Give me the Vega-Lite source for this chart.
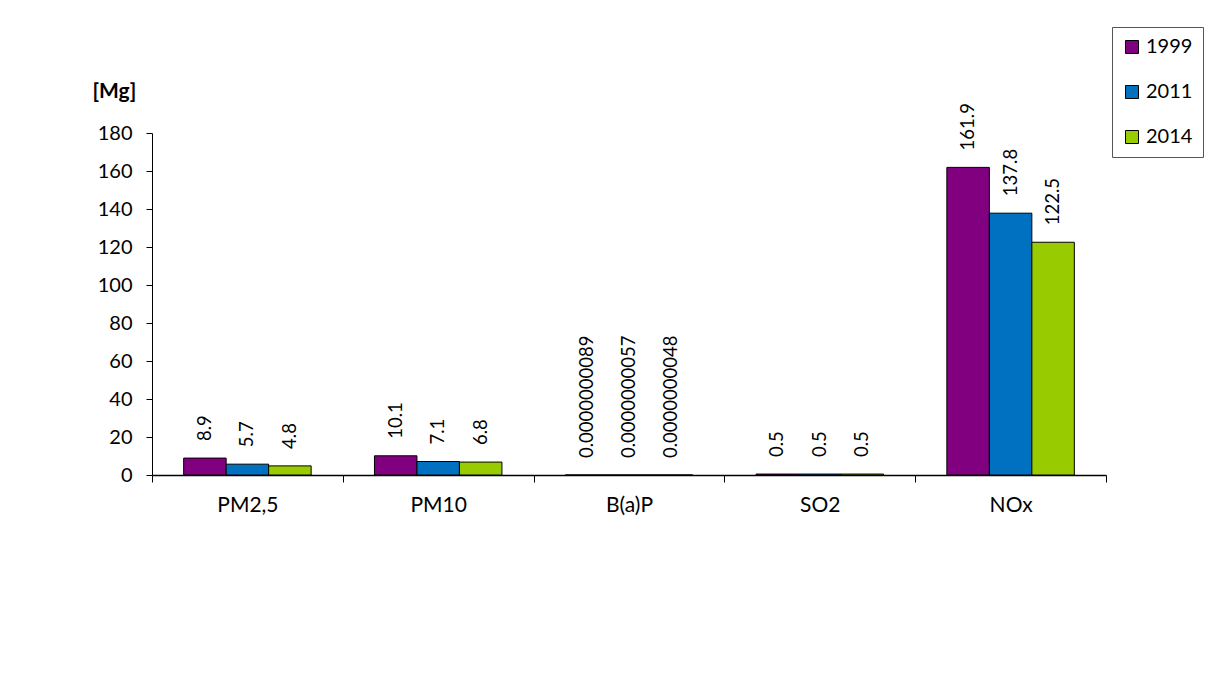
{
  "$schema": "https://vega.github.io/schema/vega-lite/v6.json",
  "autosize": "none",
  "width": 954,
  "height": 342,
  "padding": {"left": 152, "top": 133, "right": 102, "bottom": 208},
  "background": "white",
  "config": {
    "view": {"stroke": null},
    "font": "Lato",
    "axis": {"labelFont": "Lato", "titleFont": "Lato", "labelColor": "black", "titleColor": "black", "domainColor": "black", "tickColor": "black", "grid": false},
    "legend": {"labelFont": "Lato"}
  },
  "data": {
    "values": [
      {"pollutant": "PM2,5", "year": "1999", "value": 8.9, "label": "8.9"},
      {"pollutant": "PM2,5", "year": "2011", "value": 5.7, "label": "5.7"},
      {"pollutant": "PM2,5", "year": "2014", "value": 4.8, "label": "4.8"},
      {"pollutant": "PM10", "year": "1999", "value": 10.1, "label": "10.1"},
      {"pollutant": "PM10", "year": "2011", "value": 7.1, "label": "7.1"},
      {"pollutant": "PM10", "year": "2014", "value": 6.8, "label": "6.8"},
      {"pollutant": "B(a)P", "year": "1999", "value": 0.0000000089, "label": "0.0000000089"},
      {"pollutant": "B(a)P", "year": "2011", "value": 0.0000000057, "label": "0.0000000057"},
      {"pollutant": "B(a)P", "year": "2014", "value": 0.0000000048, "label": "0.0000000048"},
      {"pollutant": "SO2", "year": "1999", "value": 0.5, "label": "0.5"},
      {"pollutant": "SO2", "year": "2011", "value": 0.5, "label": "0.5"},
      {"pollutant": "SO2", "year": "2014", "value": 0.5, "label": "0.5"},
      {"pollutant": "NOx", "year": "1999", "value": 161.9, "label": "161.9"},
      {"pollutant": "NOx", "year": "2011", "value": 137.8, "label": "137.8"},
      {"pollutant": "NOx", "year": "2014", "value": 122.5, "label": "122.5"}
    ]
  },
  "encoding": {
    "x": {
      "field": "pollutant",
      "type": "nominal",
      "sort": ["PM2,5", "PM10", "B(a)P", "SO2", "NOx"],
      "scale": {"paddingInner": 0, "paddingOuter": 0},
      "axis": {
        "title": null,
        "labelAngle": 0,
        "labelFontSize": 21,
        "labelPadding": 12,
        "tickSize": 7,
        "tickBand": "extent",
        "domainWidth": 1.5
      }
    },
    "xOffset": {
      "field": "year",
      "type": "nominal",
      "scale": {"paddingInner": 0, "paddingOuter": 0.745}
    },
    "y": {
      "field": "value",
      "type": "quantitative",
      "scale": {"domain": [0, 180], "nice": false},
      "axis": {
        "values": [0, 20, 40, 60, 80, 100, 120, 140, 160, 180],
        "title": "[Mg]",
        "titleAngle": 0,
        "titleFontWeight": "bold",
        "titleFontSize": 21,
        "titleAlign": "left",
        "titleBaseline": "middle",
        "titleX": -60,
        "titleY": -42,
        "labelFontSize": 20,
        "labelPadding": 14,
        "tickSize": 6
      }
    }
  },
  "layer": [
    {
      "mark": {"type": "bar", "stroke": "black", "strokeWidth": 1},
      "encoding": {
        "fill": {
          "field": "year",
          "type": "nominal",
          "scale": {"domain": ["1999", "2011", "2014"], "range": ["#800080", "#0070C0", "#99CC00"]},
          "legend": {
            "title": null,
            "orient": "none",
            "legendX": 960,
            "legendY": -106,
            "strokeColor": "#555555",
            "padding": 10,
            "symbolType": "square",
            "symbolSize": 169,
            "symbolStrokeColor": "black",
            "symbolStrokeWidth": 1,
            "labelFontSize": 20,
            "labelColor": "black",
            "labelOffset": 4,
            "rowPadding": 25
          }
        }
      }
    },
    {
      "mark": {"type": "text", "angle": 270, "align": "left", "baseline": "middle", "dx": 17, "fontSize": 18.5, "color": "black"},
      "encoding": {
        "text": {"field": "label", "type": "nominal"}
      }
    }
  ]
}
